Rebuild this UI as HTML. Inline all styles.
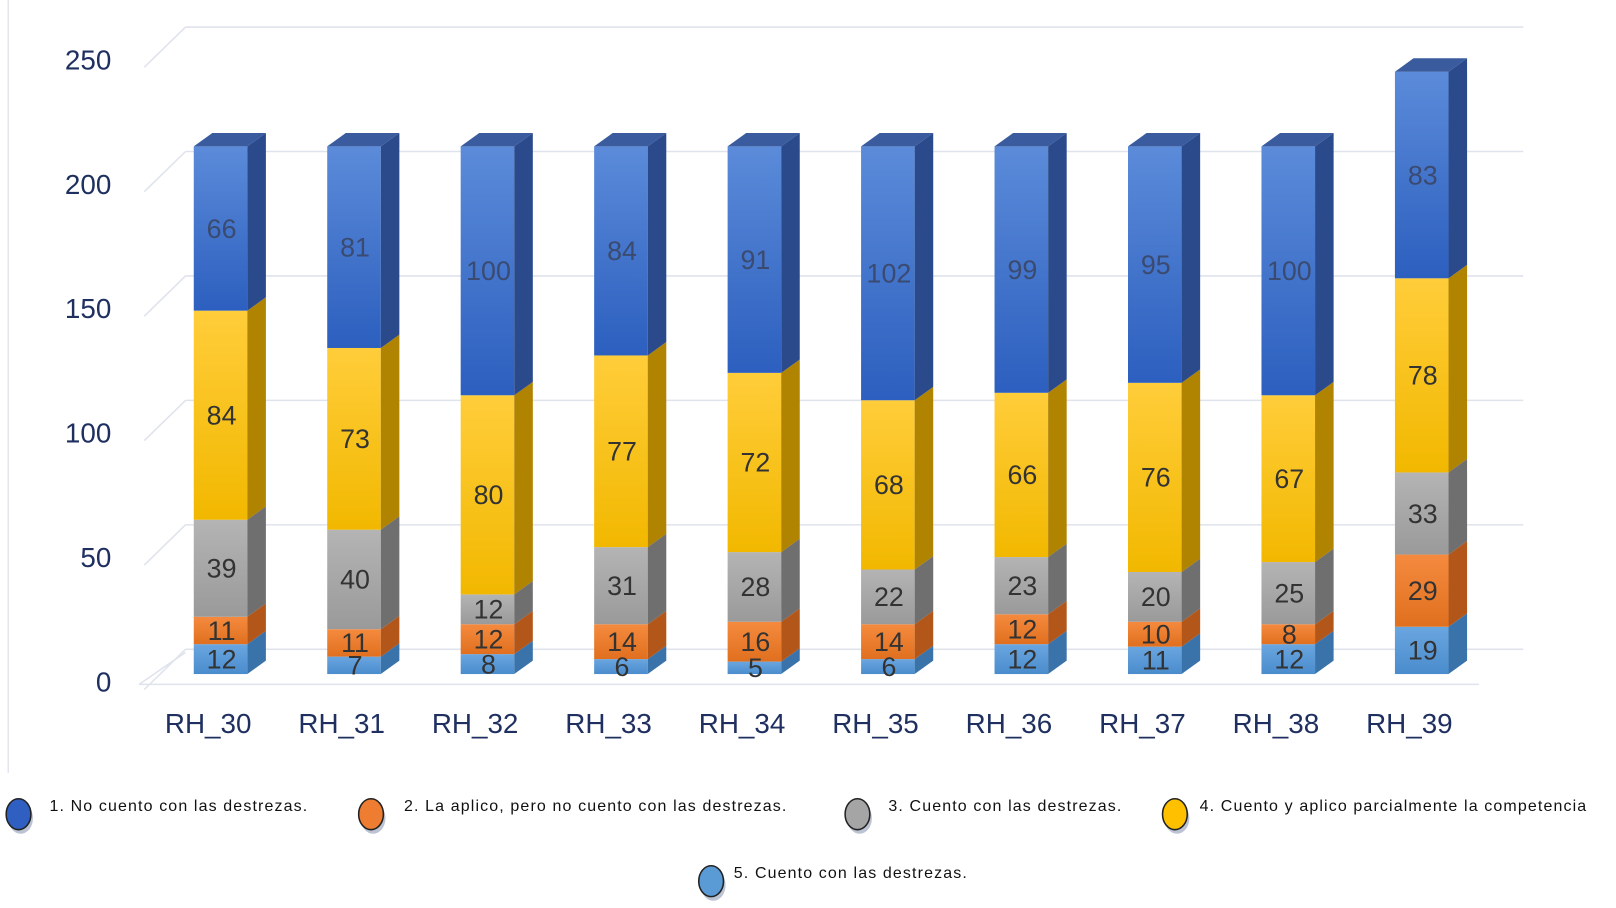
<!DOCTYPE html>
<html><head><meta charset="utf-8"><style>
html,body{margin:0;padding:0;background:#fff;}
svg{display:block;font-family:"Liberation Sans",sans-serif;}
</style></head><body>
<svg id="chart" width="1616" height="908" viewBox="0 0 1568 881" preserveAspectRatio="none">
<defs>
<linearGradient id="g0" x1="0" y1="0" x2="0" y2="1"><stop offset="0" stop-color="#5b8bd9"/><stop offset="1" stop-color="#2c5fbf"/></linearGradient>
<linearGradient id="g3" x1="0" y1="0" x2="0" y2="1"><stop offset="0" stop-color="#ffcd3a"/><stop offset="1" stop-color="#f2b800"/></linearGradient>
<linearGradient id="g2" x1="0" y1="0" x2="0" y2="1"><stop offset="0" stop-color="#b4b4b4"/><stop offset="1" stop-color="#9a9a9a"/></linearGradient>
<linearGradient id="g1" x1="0" y1="0" x2="0" y2="1"><stop offset="0" stop-color="#f58a3e"/><stop offset="1" stop-color="#e0701f"/></linearGradient>
<linearGradient id="g4" x1="0" y1="0" x2="0" y2="1"><stop offset="0" stop-color="#6aa6e0"/><stop offset="1" stop-color="#4a8ccd"/></linearGradient>
</defs>
<line x1="8" y1="0" x2="8" y2="750" stroke="#e3e6ef" stroke-width="1.5"/>
<g id="grid"></g>
<g id="axis"></g>
<g id="bars"></g>
<g id="legend"></g>
</svg>
<script>
const categories=["RH_30","RH_31","RH_32","RH_33","RH_34","RH_35","RH_36","RH_37","RH_38","RH_39"];
const s5=[12,7,8,6,5,6,12,11,12,19];
const s2=[11,11,12,14,16,14,12,10,8,29];
const s3=[39,40,12,31,28,22,23,20,25,33];
const s4=[84,73,80,77,72,68,66,76,67,78];
const s1=[66,81,100,84,91,102,99,95,100,83];
const yTicks=[0,50,100,150,200,250];
const legendLabels=["1. No cuento con las destrezas.","2. La aplico,  pero no cuento con las destrezas.","3. Cuento con las destrezas.","4.  Cuento y aplico parcialmente  la competencia","5. Cuento con las destrezas."];

const NS="http://www.w3.org/2000/svg";
function mk(tag,attrs,parent){const e=document.createElementNS(NS,tag);for(const k in attrs)e.setAttribute(k,attrs[k]);parent.appendChild(e);return e;}
const base=654,k=2.415,DX=18,DY=-13,W=52,x0=214,step=129.5;
const y=v=>base-v*k;
const xc=i=>x0+i*step;
const grid=document.getElementById('grid'),axis=document.getElementById('axis'),bars=document.getElementById('bars'),legend=document.getElementById('legend');

yTicks.forEach(t=>{
  const yy=y(t)+DY-11;
  let l=mk('line',{x1:180,y1:yy,x2:1478,y2:yy,stroke:"#dfe3ec","stroke-width":1.5},grid);
  
  
  let d=mk('line',{x1:140,y1:y(t)+15,x2:180,y2:yy,stroke:"#dfe3ec","stroke-width":1.5},grid);
  
  
  let tx=mk('text',{x:108,y:y(t)+17,"text-anchor":"end","font-size":27,fill:"#1f3060"},axis);
  tx.textContent=t;
  
  
});
let fl=mk('line',{x1:135,y1:base+10,x2:1435,y2:base+10,stroke:"#dfe3ec","stroke-width":1.5},grid);


let fl2=mk('line',{x1:135,y1:base+10,x2:180,y2:base-21,stroke:"#dfe3ec","stroke-width":1.5},grid);



const series=[s5,s2,s3,s4,s1];
const fronts=["url(#g4)","url(#g1)","url(#g2)","url(#g3)","url(#g0)"];
const sides=["#3a73aa","#b3561a","#6f6f6f","#b08300","#2a4a8c"];
const tops=["#5591cc","#d8702a","#8a8a8a","#e0aa00","#3a5b9e"];
const labelCol=["#333","#333","#333","#333","#3a4a70"];
const segNames=["seg-5","seg-2","seg-3","seg-4","seg-1"];

categories.forEach((c,i)=>{
  const g=mk('g',{},bars);
  
  
  let cum=0;const L=xc(i)-W/2,R=xc(i)+W/2;
  series.forEach((s,j)=>{
    const v=s[i],y0=y(cum),y1=y(cum+v);
    let f=mk('rect',{x:L,y:y1,width:W,height:y0-y1,fill:fronts[j]},g);
    
    
    let sd=mk('polygon',{points:`${R},${y0} ${R+DX},${y0+DY} ${R+DX},${y1+DY} ${R},${y1}`,fill:sides[j]},g);
    
    
    cum+=v;
  });
  const last=series.length-1;
  let tp=mk('polygon',{points:`${L},${y(cum)} ${L+DX},${y(cum)+DY} ${R+DX},${y(cum)+DY} ${R},${y(cum)}`,fill:tops[last]},g);
  
  
  cum=0;
  series.forEach((s,j)=>{
    const v=s[i];const my=(y(cum)+y(cum+v))/2;
    let t=mk('text',{x:xc(i)+1,y:my+9,"text-anchor":"middle","font-size":26,fill:labelCol[j]},g);
    t.textContent=v;
    
    
    cum+=v;
  });
  let cl=mk('text',{x:xc(i)-12,y:711,"text-anchor":"middle","font-size":27,fill:"#1f3060"},axis);
  cl.textContent=c;
  
  
});

const lcol=["#2f5fc0","#ee7d31","#a5a5a5","#ffc000","#5b9bd5"];
const lpos=[[18,790,48],[360,790,392],[832,790,862],[1140,790,1164],[690,855,712]];
legendLabels.forEach((lab,j)=>{
  const [cx,cy,tx]=lpos[j];
  const g=mk('g',{},legend);
  
  
  mk('ellipse',{cx:cx+2,cy:cy+4,rx:12,ry:15,fill:"#bcc3d3"},g);
  let e=mk('ellipse',{cx:cx,cy:cy,rx:12,ry:15,fill:lcol[j],stroke:"#222","stroke-width":1.5},g);
  
  
  let t=mk('text',{x:tx,y:cy-3,"font-size":15.5,fill:"#111","letter-spacing":1.1},g);
  t.textContent=lab;
  
  
});
</script>
</body></html>
